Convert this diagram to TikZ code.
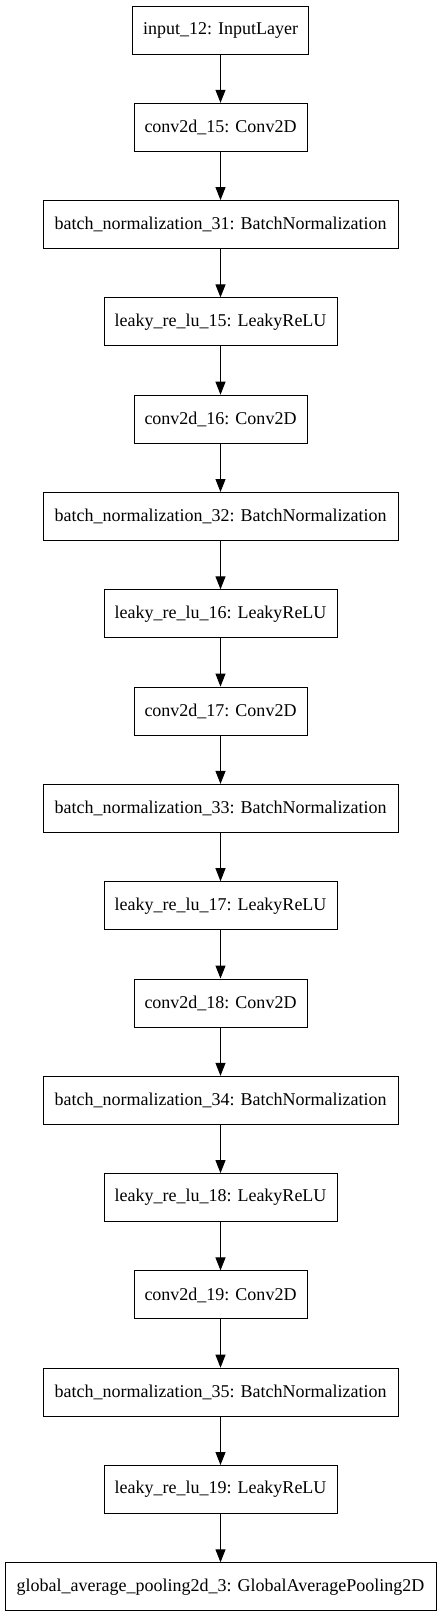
\documentclass[tikz,border=0pt]{standalone}
\usepackage{fontspec}
\setmainfont{Liberation Serif}
\usetikzlibrary{arrows.meta}
\begin{document}
\begin{tikzpicture}[x=1pt,y=1pt,
  layer/.style={draw,line width=1pt,minimum height=48pt,inner sep=0pt,font=\fontsize{18}{20}\selectfont},
  w1/.style={layer,minimum width=176pt},
  w2/.style={layer,minimum width=173pt},
  w3/.style={layer,minimum width=355pt},
  w4/.style={layer,minimum width=233pt},
  w5/.style={layer,minimum width=431pt},
  conn/.style={line width=1pt,-{Triangle[length=13pt,width=10pt]}}]
\useasboundingbox (0,0) rectangle (441,-1617);
\def\cx{220.5}
\node[w1] (n0) at (\cx,{-(30+97.3*0)}) {input\_12: InputLayer};
\node[w2] (n1) at (\cx,{-(30+97.3*1)}) {conv2d\_15: Conv2D};
\node[w3] (n2) at (\cx,{-(30+97.3*2)}) {batch\_normalization\_31: BatchNormalization};
\node[w4] (n3) at (\cx,{-(30+97.3*3)}) {leaky\_re\_lu\_15: LeakyReLU};
\node[w2] (n4) at (\cx,{-(30+97.3*4)}) {conv2d\_16: Conv2D};
\node[w3] (n5) at (\cx,{-(30+97.3*5)}) {batch\_normalization\_32: BatchNormalization};
\node[w4] (n6) at (\cx,{-(30+97.3*6)}) {leaky\_re\_lu\_16: LeakyReLU};
\node[w2] (n7) at (\cx,{-(30+97.3*7)}) {conv2d\_17: Conv2D};
\node[w3] (n8) at (\cx,{-(30+97.3*8)}) {batch\_normalization\_33: BatchNormalization};
\node[w4] (n9) at (\cx,{-(30+97.3*9)}) {leaky\_re\_lu\_17: LeakyReLU};
\node[w2] (n10) at (\cx,{-(30+97.3*10)}) {conv2d\_18: Conv2D};
\node[w3] (n11) at (\cx,{-(30+97.3*11)}) {batch\_normalization\_34: BatchNormalization};
\node[w4] (n12) at (\cx,{-(30+97.3*12)}) {leaky\_re\_lu\_18: LeakyReLU};
\node[w2] (n13) at (\cx,{-(30+97.3*13)}) {conv2d\_19: Conv2D};
\node[w3] (n14) at (\cx,{-(30+97.3*14)}) {batch\_normalization\_35: BatchNormalization};
\node[w4] (n15) at (\cx,{-(30+97.3*15)}) {leaky\_re\_lu\_19: LeakyReLU};
\node[w5] (n16) at (\cx,{-(30+97.3*16)}) {global\_average\_pooling2d\_3: GlobalAveragePooling2D};
\foreach \a [evaluate=\a as \b using int(\a+1)] in {0,...,15}
  \draw[conn] (n\a) -- (n\b);
\end{tikzpicture}
\end{document}
